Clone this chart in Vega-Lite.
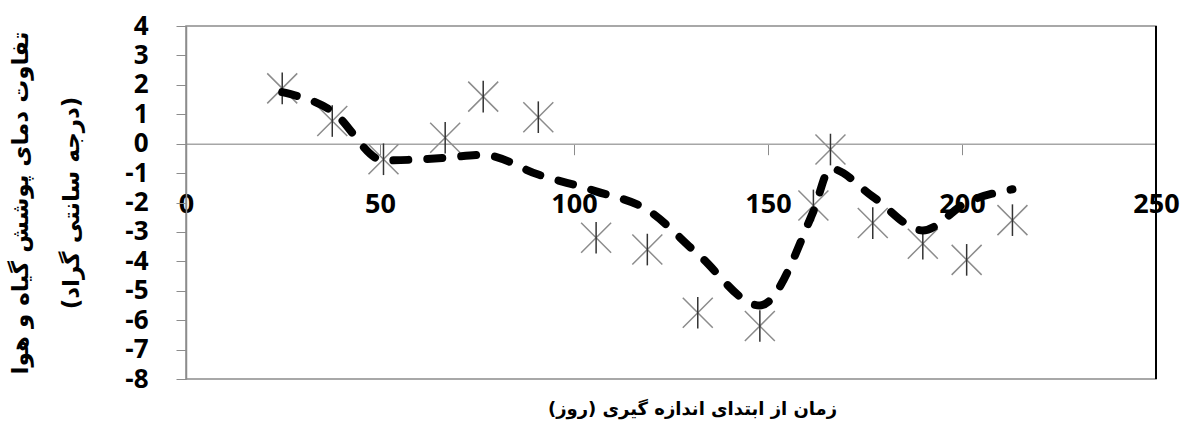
{
  "$schema": "https://vega.github.io/schema/vega-lite/v6.json",
  "width": 970,
  "height": 353,
  "autosize": {"type": "none"},
  "padding": {"left": 186, "top": 26, "right": 31, "bottom": 46},
  "background": "white",
  "data": {
    "values": [
      {"day": 24.8, "diff": 1.88, "fit": 1.75},
      {"day": 37.7, "diff": 0.77, "fit": 1.1},
      {"day": 50.9, "diff": -0.53, "fit": -0.57},
      {"day": 66.8, "diff": 0.2, "fit": -0.48},
      {"day": 76.6, "diff": 1.6, "fit": -0.38},
      {"day": 90.8, "diff": 0.9, "fit": -1.05},
      {"day": 105.7, "diff": -3.2, "fit": -1.62},
      {"day": 118.9, "diff": -3.6, "fit": -2.25},
      {"day": 131.9, "diff": -5.75, "fit": -3.75},
      {"day": 147.9, "diff": -6.2, "fit": -5.5},
      {"day": 161.7, "diff": -2.1, "fit": -2.3},
      {"day": 166.1, "diff": -0.2, "fit": -0.85},
      {"day": 177.0, "diff": -2.7, "fit": -1.8},
      {"day": 189.9, "diff": -3.4, "fit": -2.95},
      {"day": 201.2, "diff": -3.95, "fit": -2.0},
      {"day": 213.0, "diff": -2.6, "fit": -1.55}
    ]
  },
  "encoding": {
    "x": {
      "field": "day",
      "type": "quantitative",
      "scale": {"domain": [0, 250], "nice": false, "zero": false},
      "axis": {
        "values": [0, 50, 100, 150, 200, 250],
        "offset": -235.3,
        "grid": false,
        "domainColor": "#a6a6a6",
        "domainWidth": 1.5,
        "tickColor": "#8c8c8c",
        "tickSize": 11,
        "labelPadding": 37,
        "labelFont": "Open Sans",
        "labelFontSize": 27,
        "labelFontWeight": "bold",
        "labelColor": "#000000",
        "labelFlush": false,
        "labelBound": false,
        "labelOverlap": false,
        "title": "زمان از ابتدای اندازه گیری (روز)",
        "titleFont": "DejaVu Sans",
        "titleFontSize": 18,
        "titleFontWeight": "bold",
        "titleColor": "#000000",
        "titleX": 506,
        "titleY": 266,
        "titleAlign": "center",
        "titleBaseline": "middle"
      }
    },
    "y": {
      "field": "diff",
      "type": "quantitative",
      "scale": {"domain": [-8, 4], "nice": false, "zero": false},
      "axis": {
        "values": [-8, -7, -6, -5, -4, -3, -2, -1, 0, 1, 2, 3, 4],
        "labelExpr": "datum.value < 0 ? '-' + abs(datum.value) : '' + datum.value",
        "grid": false,
        "domainColor": "#8c8c8c",
        "domainWidth": 1.5,
        "tickColor": "#8c8c8c",
        "tickSize": 10,
        "labelPadding": 28,
        "labelFont": "Open Sans",
        "labelFontSize": 26,
        "labelFontWeight": "bold",
        "labelColor": "#000000",
        "labelFlush": false,
        "labelBound": false,
        "labelOverlap": false,
        "title": ["تفاوت دمای پوشش گیاه و هوا", "(درجه سانتی گراد)"],
        "titleFont": "DejaVu Sans",
        "titleFontSize": 23,
        "titleFontWeight": "bold",
        "titleColor": "#000000",
        "titleAngle": -90,
        "titleX": -177,
        "titleY": 176.5,
        "titleAlign": "center",
        "titleBaseline": "top",
        "titleLineHeight": 51
      }
    }
  },
  "layer": [
    {
      "mark": {
        "type": "point",
        "shape": "M-1,-1L1,1M-1,1L1,-1",
        "size": 900,
        "filled": false,
        "stroke": "#8c8c8c",
        "strokeWidth": 1.5,
        "opacity": 1
      }
    },
    {
      "mark": {
        "type": "point",
        "shape": "M0,-1L0,1",
        "size": 1000,
        "filled": false,
        "stroke": "#333333",
        "strokeWidth": 1.5,
        "opacity": 1
      }
    },
    {
      "mark": {
        "type": "line",
        "interpolate": "monotone",
        "color": "#000000",
        "strokeWidth": 8,
        "strokeDash": [15, 19],
        "strokeCap": "round"
      },
      "encoding": {
        "y": {"field": "fit", "type": "quantitative"}
      }
    },
    {
      "mark": {"type": "rule", "color": "#000000", "strokeWidth": 1.2},
      "encoding": {
        "x": {"datum": 250},
        "y": {"datum": -8},
        "y2": {"datum": 4}
      }
    }
  ],
  "config": {
    "view": {"stroke": "#8c8c8c", "strokeWidth": 1.5}
  }
}
